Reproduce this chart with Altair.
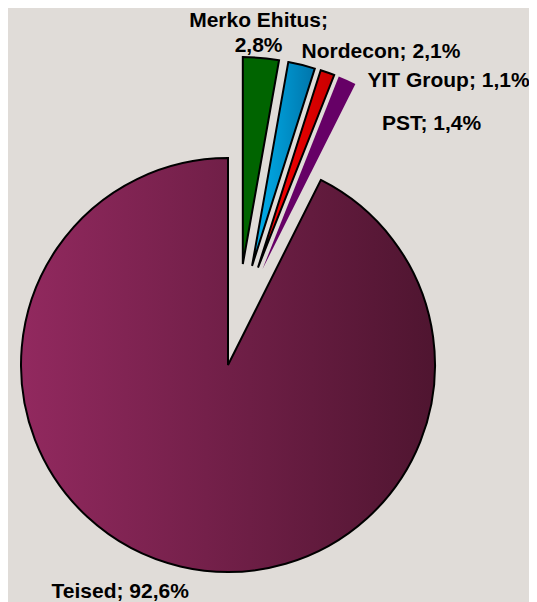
import altair as alt
import pandas as pd

# ---- data ----
labels = ["Merko Ehitus", "Nordecon", "YIT Group", "PST", "Teised"]
values = [2.8, 2.1, 1.1, 1.4, 92.6]

texts = []
for lab, v in zip(labels, values):
    sep = "\n" if lab == "Merko Ehitus" else " "
    texts.append(f"{lab};{sep}{v:.1f}%".replace(".", ","))

df = pd.DataFrame({"label": labels, "value": values,
                   "order": list(range(len(labels))), "text": texts})

# ---- layout / style ----
W, H = 521, 594
CX, CY, R, EXPLODE, LR = 220, 357, 207, 102, 225
MAIN = "Teised"
BG = "#e0dcd8"

def grad(c1, c2):
    return {"gradient": "linear", "x1": 0, "y1": 0, "x2": 1, "y2": 0,
            "stops": [{"offset": 0, "color": c1}, {"offset": 1, "color": c2}]}

styles = {
    "Merko Ehitus": dict(fill="#006400", stroke="black", strokeWidth=2),
    "Nordecon": dict(fill=grad("#00b2ee", "#0074aa"), stroke="black", strokeWidth=2),
    "YIT Group": dict(fill=grad("#ff0000", "#c80000"), stroke="black", strokeWidth=2),
    "PST": dict(fill="#660066", strokeWidth=0),
    "Teised": dict(fill=grad("#92295f", "#4f1530"), stroke="black", strokeWidth=2),
}
label_offsets = {
    "Merko Ehitus": dict(dx=-4, dy=-13),
    "Nordecon": dict(dx=75, dy=11),
    "YIT Group": dict(dx=115, dy=31),
    "PST": dict(dx=77, dy=66),
    "Teised": dict(dx=-56, dy=14),
}

base = alt.Chart(df).transform_window(
    end="sum(value)", sort=[alt.SortField("order")], frame=[None, 0]
).transform_calculate(
    start="datum.end - datum.value"
).transform_calculate(
    small=f"datum.label == '{MAIN}' ? 0 : datum.value"
).transform_joinaggregate(
    small_total="sum(small)"
).transform_calculate(
    mid="(datum.start + datum.end) / 100 * PI"
).transform_calculate(
    gmid="datum.small_total / 100 * PI"
).transform_calculate(
    dir="0.6 * datum.mid + 0.4 * datum.gmid"
).transform_calculate(
    ex=f"datum.label == '{MAIN}' ? 0 : {EXPLODE}"
).transform_calculate(
    cx=f"{CX} + datum.ex * sin(datum.dir)"
).transform_calculate(
    cy=f"{CY} - datum.ex * cos(datum.dir)"
).transform_calculate(
    lx=f"datum.cx + {LR} * sin(datum.mid)"
).transform_calculate(
    ly=f"datum.cy - {LR} * cos(datum.mid)"
)

theta_scale = alt.Scale(domain=[0, 100], range=[0, 6.283185307179586])

layers = []
for lab in labels:
    st = styles[lab]
    arc = base.transform_filter(alt.datum.label == lab).mark_arc(
        radius=R, **st
    ).encode(
        theta=alt.Theta("start:Q", scale=theta_scale),
        theta2="end:Q",
        x=alt.X("cx:Q", scale=None, axis=None),
        y=alt.Y("cy:Q", scale=None, axis=None),
    )
    layers.append(arc)

for lab in labels:
    off = label_offsets[lab]
    txt = base.transform_filter(alt.datum.label == lab).mark_text(
        font="Liberation Sans", fontSize=21, fontWeight="bold", color="black",
        align="center", baseline="alphabetic", lineBreak="\n", lineHeight=25,
        **off
    ).encode(
        x=alt.X("lx:Q", scale=None, axis=None),
        y=alt.Y("ly:Q", scale=None, axis=None),
        text="text:N",
    )
    layers.append(txt)

chart = alt.layer(*layers).properties(
    width=W, height=H, background=BG, padding=0,
    autosize=alt.AutoSizeParams(type="none"),
).configure_view(stroke=None)

chart.save("out.html", embed_options={"renderer": "svg", "actions": False})
